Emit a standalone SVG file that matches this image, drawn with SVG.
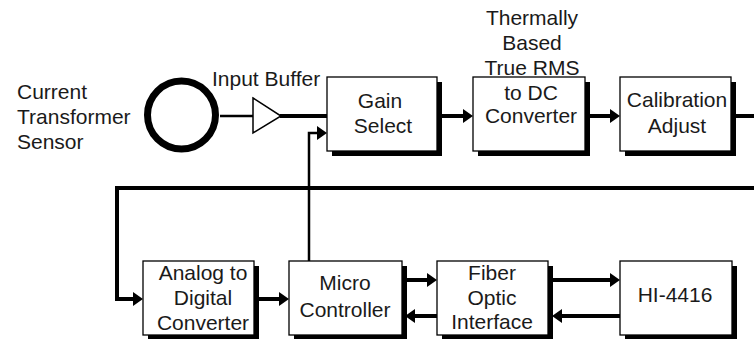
<svg xmlns="http://www.w3.org/2000/svg" width="754" height="339" viewBox="0 0 754 339">
<style>
text{font-family:"Liberation Sans",Arial,sans-serif;font-size:21px;fill:#1a1a1a}
.c{text-anchor:middle}
.box{fill:#fff;stroke:#000;stroke-width:1.3}
.sh{fill:#000}
.w{fill:none;stroke:#000;stroke-width:4}
.t{fill:none;stroke:#000;stroke-width:2.5}
</style>
<defs>
<marker id="ah" markerUnits="userSpaceOnUse" markerWidth="10" markerHeight="14" viewBox="0 0 10 14" refX="3" refY="7" orient="auto">
<path d="M0,0 L10,7 L0,14 z" fill="#000"/>
</marker>
</defs>
<rect width="754" height="339" fill="#fff"/>
<g id="connectors">
<line class="t" x1="220" y1="116" x2="254" y2="116"/>
<line class="w" x1="280" y1="116" x2="327" y2="116"/>
<line class="w" x1="437" y1="116" x2="466" y2="116" marker-end="url(#ah)"/>
<line class="w" x1="585" y1="116" x2="613" y2="116" marker-end="url(#ah)"/>
<line class="w" x1="730" y1="116" x2="754" y2="116"/>
<path class="t" d="M309,261 V133 H320" marker-end="url(#ah)"/>
<path class="w" d="M754,188 H117 V299 H136" marker-end="url(#ah)"/>
<line class="w" x1="254" y1="299" x2="282" y2="299" marker-end="url(#ah)"/>
<line class="w" x1="402" y1="280" x2="430" y2="280" marker-end="url(#ah)"/>
<line class="w" x1="548" y1="280" x2="613" y2="280" marker-end="url(#ah)"/>
<line class="w" x1="620" y1="316" x2="559" y2="316" marker-end="url(#ah)"/>
<line class="w" x1="437" y1="316" x2="412" y2="316" marker-end="url(#ah)"/>
</g>
<g id="sensor">
<circle cx="181.5" cy="115" r="34" fill="none" stroke="#000" stroke-width="7"/>
<text x="17" y="99">Current</text>
<text x="17" y="124">Transformer</text>
<text x="17" y="149">Sensor</text>
</g>
<g id="buffer">
<polygon points="253,98 281,116 253,133" fill="#fff" stroke="#000" stroke-width="1.5"/>
<text x="212" y="86">Input Buffer</text>
</g>
<g id="gain">
<rect class="sh" x="332" y="82" width="110" height="74"/>
<rect class="box" x="327" y="77" width="110" height="74"/>
<text class="c" x="380" y="108">Gain</text>
<text class="c" x="383" y="133">Select</text>
</g>
<g id="rms">
<rect class="sh" x="478" y="82" width="112" height="74"/>
<rect class="box" x="473" y="77" width="112" height="74"/>
<text class="c" x="532" y="25">Thermally</text>
<text class="c" x="532" y="50">Based</text>
<text class="c" x="532" y="75">True RMS</text>
<text class="c" x="531" y="100">to DC</text>
<text class="c" x="531" y="123">Converter</text>
</g>
<g id="calibration">
<rect class="sh" x="625" y="82" width="111" height="74"/>
<rect class="box" x="620" y="77" width="111" height="74"/>
<text class="c" x="677" y="107">Calibration</text>
<text class="c" x="677" y="133">Adjust</text>
</g>
<g id="adc">
<rect class="sh" x="148" y="266" width="111" height="74"/>
<rect class="box" x="143" y="261" width="111" height="74"/>
<text class="c" x="203" y="280">Analog to</text>
<text class="c" x="203" y="305">Digital</text>
<text class="c" x="203" y="330">Converter</text>
</g>
<g id="micro">
<rect class="sh" x="294" y="266" width="113" height="74"/>
<rect class="box" x="289" y="261" width="113" height="74"/>
<text class="c" x="345" y="290">Micro</text>
<text class="c" x="345" y="317">Controller</text>
</g>
<g id="fiber">
<rect class="sh" x="442" y="266" width="111" height="74"/>
<rect class="box" x="437" y="261" width="111" height="74"/>
<text class="c" x="492" y="280">Fiber</text>
<text class="c" x="492" y="305">Optic</text>
<text class="c" x="492" y="329">Interface</text>
</g>
<g id="hi4416">
<rect class="sh" x="625" y="266" width="112" height="74"/>
<rect class="box" x="620" y="261" width="112" height="74"/>
<text class="c" x="675" y="302">HI-4416</text>
</g>
</svg>
